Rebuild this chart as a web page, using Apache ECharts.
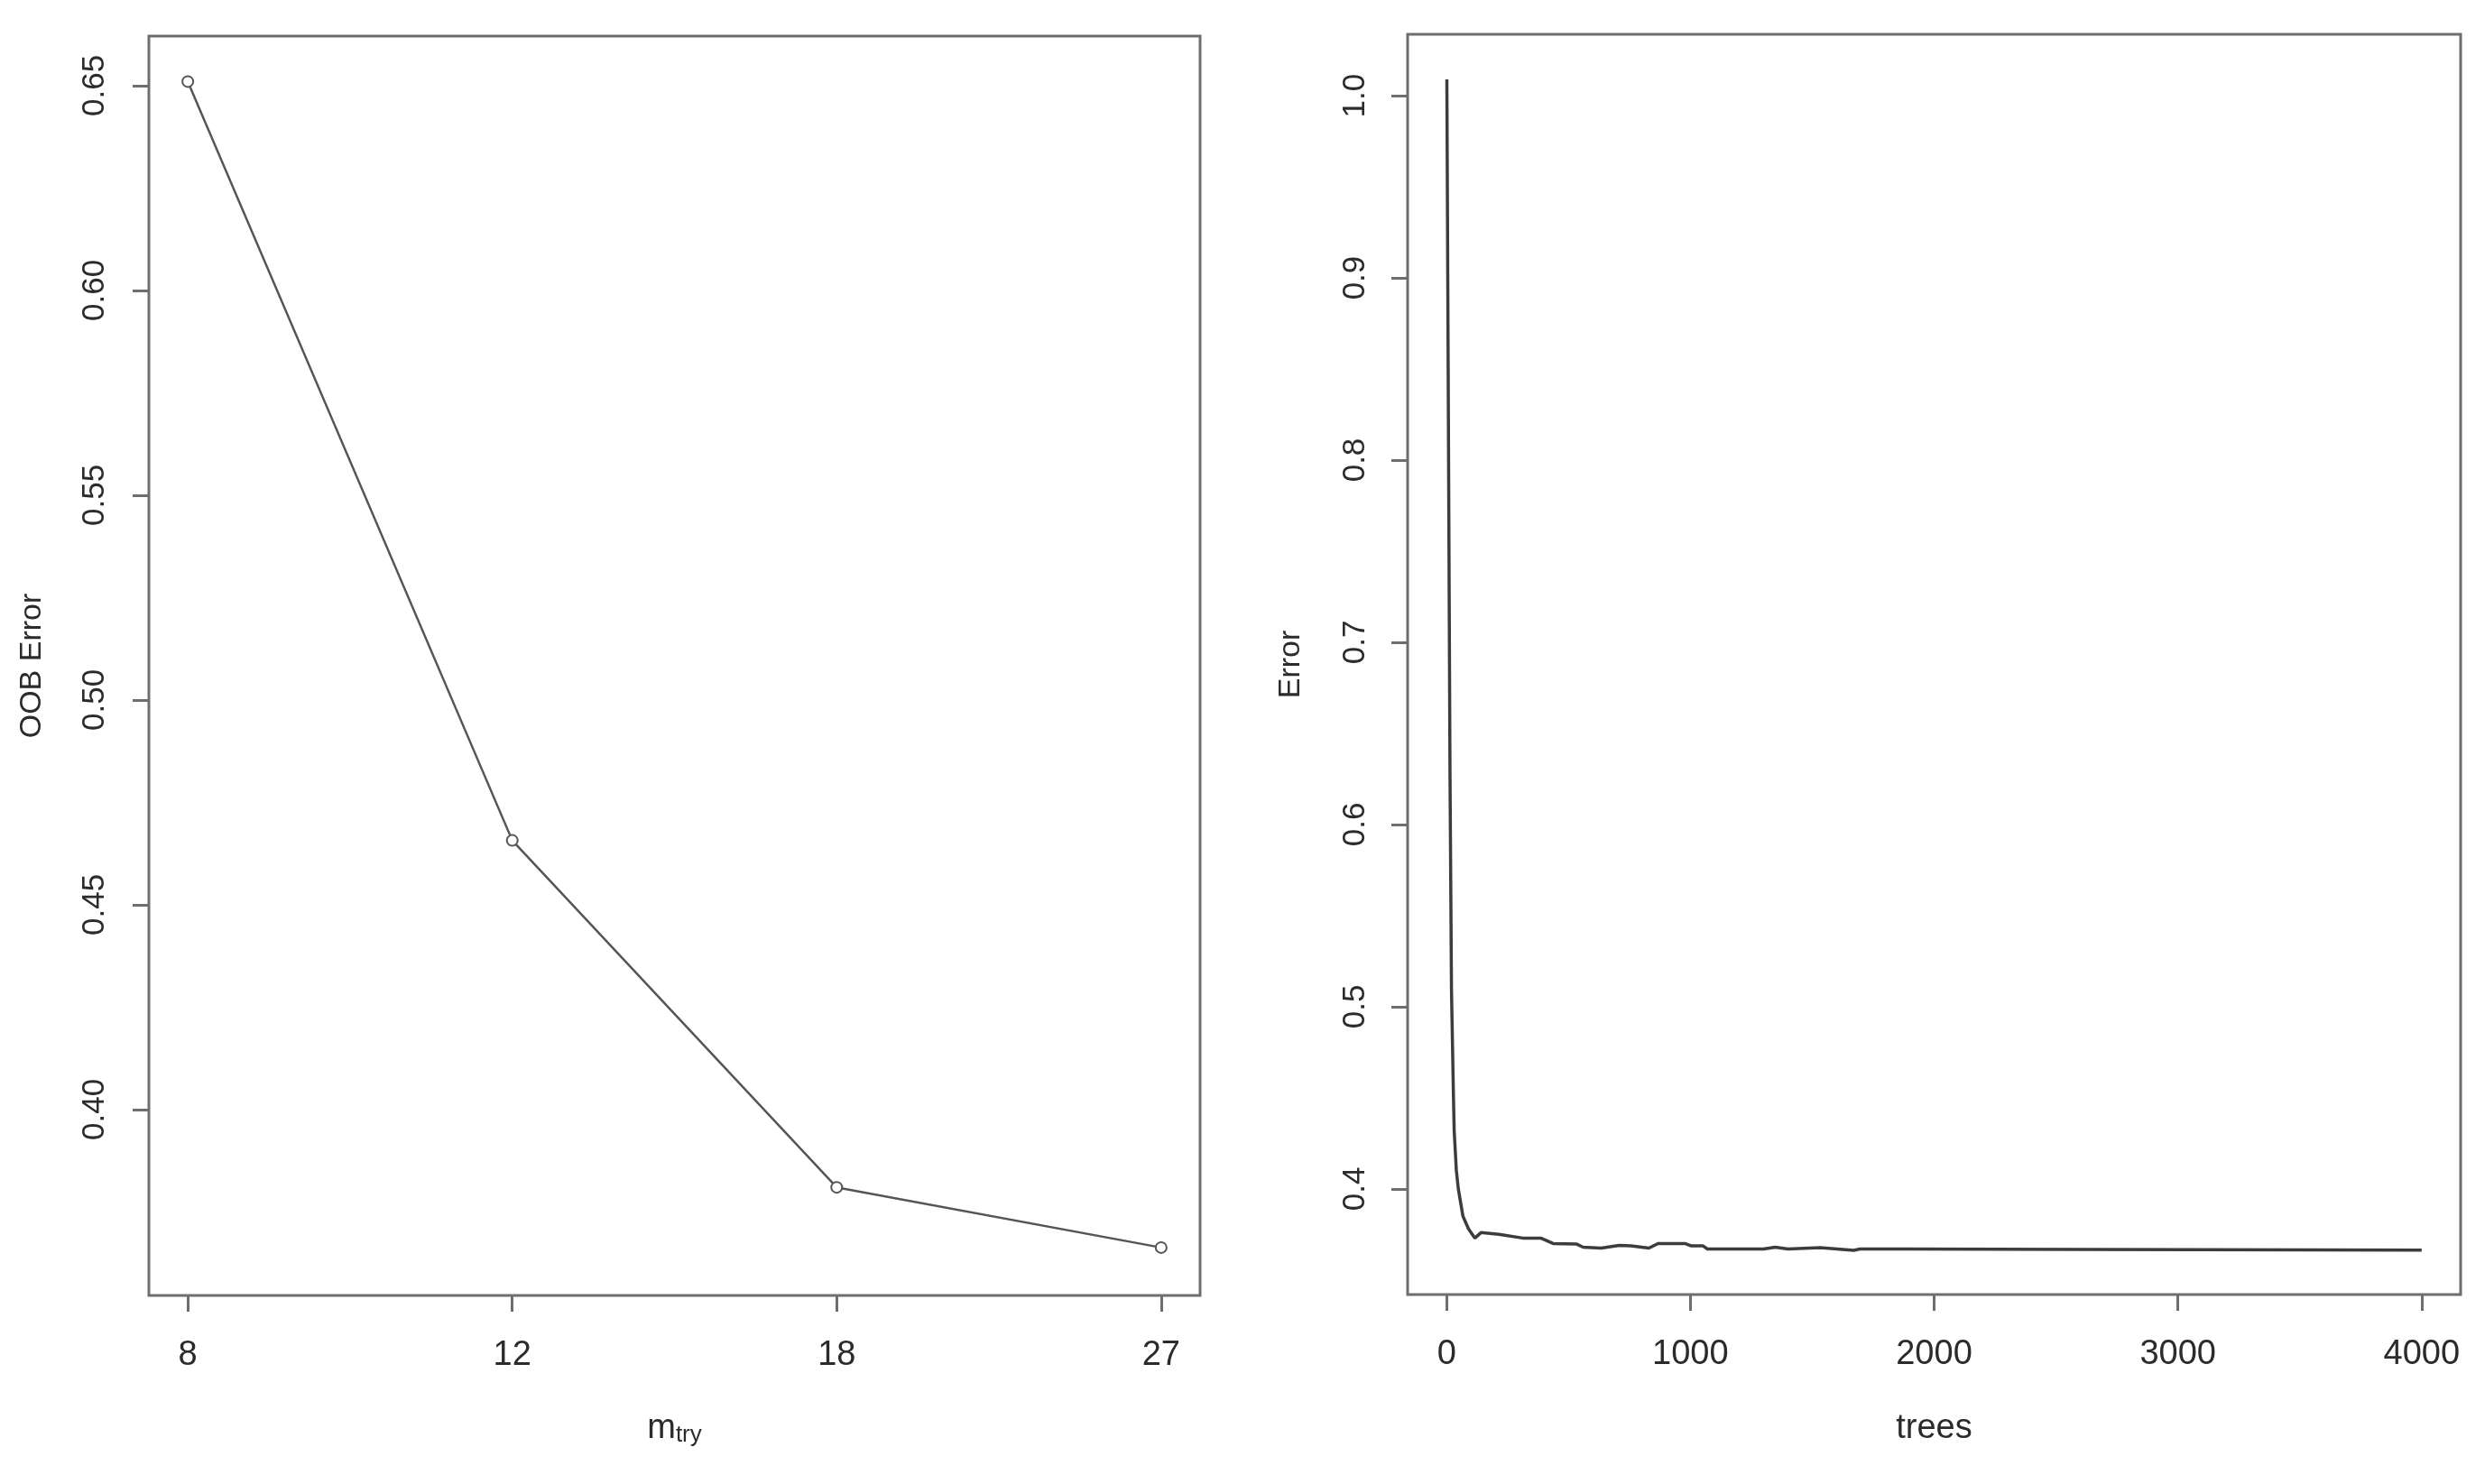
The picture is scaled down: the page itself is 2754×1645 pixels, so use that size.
<!DOCTYPE html>
<html>
<head>
<meta charset="utf-8">
<title>OOB error</title>
<script src="https://cdn.jsdelivr.net/npm/echarts@6/dist/echarts.min.js"></script>
<style>
  html, body { margin: 0; padding: 0; background: #fff; }
  #chart { width: 2754px; height: 1645px; }
</style>
</head>
<body>
<div id="chart"></div>
<script>
// left panel: OOB error by mtry
const mtry = [8, 12, 18, 27]
const oobError = [0.651, 0.4657, 0.381, 0.3663]
const oobTicks = [0.40, 0.45, 0.50, 0.55, 0.60, 0.65]

// right panel: error vs number of trees
const trees = [1, 14, 20, 28, 31, 40, 48, 67, 90, 116, 141, 215, 312, 386, 437, 534, 560, 634, 708, 756, 830, 867, 978, 1004, 1052, 1070, 1300, 1348, 1400, 1533, 1670, 1696, 1892, 2610, 2615, 4000]
const treeError = [1.009, 0.626, 0.509, 0.451, 0.432, 0.41, 0.40, 0.385, 0.378, 0.373, 0.376, 0.375, 0.373, 0.373, 0.370, 0.3697, 0.368, 0.3675, 0.369, 0.3687, 0.3675, 0.370, 0.370, 0.3687, 0.3687, 0.367, 0.367, 0.368, 0.367, 0.3677, 0.3663, 0.367, 0.367, 0.3668, 0.3664, 0.3664]
const treeTicks = [0, 1000, 2000, 3000, 4000]
const errTicks = [0.4, 0.5, 0.6, 0.7, 0.8, 0.9, 1.0]

const frame = '#6e6e6e'
const textColor = '#2b2b2b'
const narrow = "'Liberation Sans Narrow', 'Liberation Sans', Arial, sans-serif"
const sans = "'Liberation Sans', Arial, sans-serif"

const tick = { show: true, inside: false, length: 18, lineStyle: { color: frame, width: 3 } }

const chart = echarts.init(document.getElementById('chart'))
chart.setOption({
    animation: false,
    backgroundColor: '#fff',
    grid: [
        { left: 165, right: 1424, top: 40, bottom: 209, show: true, borderColor: frame, borderWidth: 3 },
        { left: 1560, right: 27, top: 38, bottom: 210, show: true, borderColor: frame, borderWidth: 3 }
    ],
    xAxis: [
        {
            gridIndex: 0,
            type: 'value',
            min: 0.88,
            max: 4.12,
            splitLine: { show: false },
            axisLine: { show: false, onZero: false },
            axisTick: { ...tick, customValues: [1, 2, 3, 4] },
            axisLabel: {
                customValues: [1, 2, 3, 4],
                formatter: v => String(mtry[Math.round(v) - 1]),
                margin: 48,
                fontSize: 38,
                fontFamily: narrow,
                color: textColor
            },
            name: '{m|m}{s|try}',
            nameLocation: 'middle',
            nameGap: 128,
            nameTextStyle: {
                rich: {
                    m: { fontSize: 38, fontFamily: narrow, color: textColor },
                    s: { fontSize: 26, fontFamily: narrow, color: textColor, padding: [14, 0, 0, 0] }
                }
            }
        },
        {
            gridIndex: 1,
            type: 'value',
            min: -159.96,
            max: 4159.96,
            splitLine: { show: false },
            axisLine: { show: false, onZero: false },
            axisTick: { ...tick, customValues: treeTicks },
            axisLabel: {
                customValues: treeTicks,
                formatter: v => String(v),
                margin: 48,
                fontSize: 38,
                fontFamily: narrow,
                color: textColor
            },
            name: 'trees',
            nameLocation: 'middle',
            nameGap: 130,
            nameTextStyle: { fontSize: 38, fontFamily: narrow, color: textColor }
        }
    ],
    yAxis: [
        {
            gridIndex: 0,
            type: 'value',
            min: 0.3546,
            max: 0.6621,
            splitLine: { show: false },
            axisLine: { show: false, onZero: false },
            axisTick: { ...tick, customValues: oobTicks },
            axisLabel: {
                customValues: oobTicks,
                formatter: v => v.toFixed(2),
                rotate: 90,
                margin: 42,
                fontSize: 35,
                fontFamily: sans,
                color: textColor
            },
            name: 'OOB Error',
            nameLocation: 'middle',
            nameRotate: 90,
            nameGap: 112,
            nameTextStyle: { fontSize: 34, fontFamily: sans, color: textColor }
        },
        {
            gridIndex: 1,
            type: 'value',
            min: 0.342,
            max: 1.0337,
            splitLine: { show: false },
            axisLine: { show: false, onZero: false },
            axisTick: { ...tick, customValues: errTicks },
            axisLabel: {
                customValues: errTicks,
                formatter: v => v.toFixed(1),
                rotate: 90,
                margin: 40,
                fontSize: 35,
                fontFamily: sans,
                color: textColor
            },
            name: 'Error',
            nameLocation: 'middle',
            nameRotate: 90,
            nameGap: 112,
            nameTextStyle: { fontSize: 34, fontFamily: sans, color: textColor }
        }
    ],
    series: [
        {
            type: 'line',
            xAxisIndex: 0,
            yAxisIndex: 0,
            data: mtry.map((m, i) => [i + 1, oobError[i]]),
            symbol: 'emptyCircle',
            symbolSize: 12,
            itemStyle: { color: '#555', borderColor: '#555', borderWidth: 2 },
            lineStyle: { color: '#555', width: 2.5 }
        },
        {
            type: 'line',
            xAxisIndex: 1,
            yAxisIndex: 1,
            data: trees.map((t, i) => [t, treeError[i]]),
            showSymbol: false,
            symbol: 'none',
            lineStyle: { color: '#3c3c3c', width: 3.5 }
        }
    ]
})
</script>
</body>
</html>
